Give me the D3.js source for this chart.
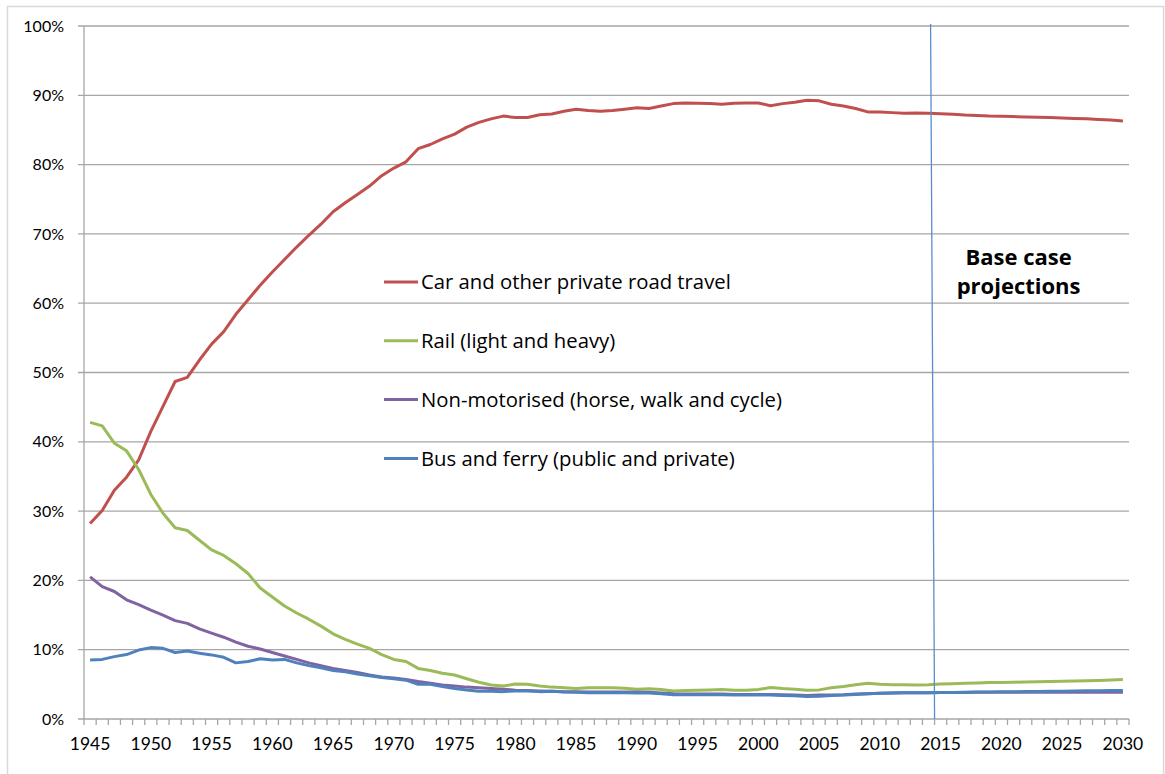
<!DOCTYPE html>
<html>
<head>
<meta charset="utf-8">
<script src="https://cdn.jsdelivr.net/npm/d3@7"></script>
<style>
  html, body { margin: 0; padding: 0; background: #fff; }
  svg { display: block; font-family: Lato, "Open Sans", sans-serif; }
</style>
</head>
<body>
<svg id="chart" width="1165" height="774"></svg>
<script>
// ---------- data ----------
const years = d3.range(1945, 2031);
const xTickLabels = d3.range(1945, 2031, 5);
const yTicks = [0, 0.1, 0.2, 0.3, 0.4, 0.5, 0.6, 0.7, 0.8, 0.9, 1.0];

const car = [
  28.2, 30.1, 33.0, 34.9, 37.4, 41.5, 45.1, 48.7, 49.3, 51.8,
  54.1, 55.9, 58.4, 60.5, 62.6, 64.5, 66.3, 68.1, 69.8, 71.4,
  73.2, 74.5, 75.7, 76.9, 78.4, 79.5, 80.4, 82.3, 82.9, 83.7,
  84.4, 85.4, 86.1, 86.6, 87.0, 86.8, 86.8, 87.2, 87.3, 87.7,
  88.0, 87.8, 87.7, 87.8, 88.0, 88.2, 88.1, 88.45, 88.8, 88.9,
  88.85, 88.8, 88.7, 88.85, 88.9, 88.9, 88.5, 88.8, 89.0, 89.3,
  89.2, 88.7, 88.45, 88.1, 87.6, 87.6, 87.5, 87.4, 87.45, 87.4,
  87.35, 87.25, 87.15, 87.1, 87.0, 86.97, 86.93, 86.88, 86.83, 86.78,
  86.72, 86.67, 86.6, 86.52, 86.43, 86.3
];
const rail = [
  42.8, 42.3, 39.8, 38.7, 36.0, 32.4, 29.7, 27.6, 27.2, 25.8,
  24.4, 23.6, 22.4, 21.0, 18.9, 17.6, 16.3, 15.3, 14.4, 13.4,
  12.3, 11.5, 10.8, 10.2, 9.3, 8.6, 8.3, 7.3, 7.0, 6.6,
  6.35, 5.8, 5.3, 4.9, 4.75, 5.05, 5.0, 4.75, 4.6, 4.5,
  4.4, 4.5, 4.5, 4.5, 4.45, 4.3, 4.35, 4.25, 4.05, 4.1,
  4.15, 4.2, 4.25, 4.15, 4.15, 4.25, 4.55, 4.4, 4.3, 4.15,
  4.2, 4.5, 4.7, 4.95, 5.15, 5.0, 4.95, 4.95, 4.9, 4.95,
  5.05, 5.1, 5.15, 5.2, 5.25, 5.28, 5.31, 5.35, 5.38, 5.42,
  5.45, 5.48, 5.52, 5.57, 5.62, 5.7
];
const nonMotorised = [
  20.5, 19.1, 18.4, 17.2, 16.5, 15.7, 15.0, 14.2, 13.8, 13.0,
  12.4, 11.8, 11.1, 10.5, 10.1, 9.6, 9.1, 8.6, 8.1, 7.7,
  7.3, 7.0, 6.7, 6.35, 6.05, 5.9, 5.7, 5.4, 5.15, 4.9,
  4.75, 4.6, 4.5, 4.4, 4.3, 4.15, 4.1, 4.05, 4.0, 3.95,
  3.95, 3.9, 3.9, 3.9, 3.9, 3.9, 3.85, 3.75, 3.65, 3.6,
  3.6, 3.6, 3.6, 3.55, 3.55, 3.55, 3.55, 3.5, 3.45, 3.4,
  3.45, 3.45, 3.5, 3.6, 3.65, 3.7, 3.75, 3.8, 3.8, 3.8,
  3.82, 3.83, 3.84, 3.85, 3.85, 3.86, 3.86, 3.86, 3.86, 3.86,
  3.86, 3.86, 3.86, 3.86, 3.86, 3.86
];
const bus = [
  8.5, 8.6, 9.0, 9.3, 9.95, 10.3, 10.2, 9.6, 9.8, 9.5,
  9.25, 8.9, 8.1, 8.3, 8.7, 8.5, 8.6, 8.1, 7.7, 7.4,
  7.0, 6.8, 6.5, 6.25, 6.0, 5.8, 5.6, 5.0, 5.0, 4.7,
  4.4, 4.2, 4.0, 4.0, 3.95, 4.05, 4.05, 3.95, 4.0, 3.9,
  3.85, 3.8, 3.8, 3.8, 3.8, 3.75, 3.75, 3.65, 3.5, 3.5,
  3.5, 3.5, 3.5, 3.45, 3.45, 3.45, 3.45, 3.4, 3.35, 3.25,
  3.3, 3.4, 3.45, 3.55, 3.65, 3.7, 3.75, 3.8, 3.8, 3.8,
  3.82, 3.84, 3.86, 3.88, 3.9, 3.92, 3.94, 3.96, 3.98, 4.0,
  4.02, 4.04, 4.06, 4.08, 4.1, 4.12
];

const seriesNames = [
  "Car and other private road travel",
  "Rail (light and heavy)",
  "Non-motorised (horse, walk and cycle)",
  "Bus and ferry (public and private)"
];
const seriesValues = [car, rail, nonMotorised, bus];
const seriesColors = ["#C0504D", "#9BBB59", "#8064A2", "#4F81BD"];

const projectionStart = 2015;
const annotationLines = ["Base case", "projections"];

// ---------- layout ----------
const W = 1165, H = 774;
const margin = { left: 84, right: 36, top: 26, bottom: 55 };
const svg = d3.select("#chart");

// outer frame
svg.append("rect")
  .attr("x", 7.5).attr("y", 6.5)
  .attr("width", 1156).attr("height", 790)
  .attr("fill", "none").attr("stroke", "#d9d9d9").attr("stroke-width", 1.5);

const x = d3.scaleBand()
  .domain(years)
  .range([margin.left, W - margin.right])
  .padding(0);
const y = d3.scaleLinear()
  .domain([0, 1])
  .range([H - margin.bottom, margin.top]);
const cx = yr => x(yr) + x.bandwidth() / 2;

// gridlines
svg.append("g")
  .selectAll("line")
  .data(yTicks)
  .join("line")
  .attr("x1", margin.left - 6)
  .attr("x2", W - margin.right)
  .attr("y1", d => y(d))
  .attr("y2", d => y(d))
  .attr("stroke", "#a6a6a6")
  .attr("stroke-width", 1.3);

// y axis line
svg.append("line")
  .attr("x1", margin.left).attr("x2", margin.left)
  .attr("y1", y(1)).attr("y2", y(0))
  .attr("stroke", "#a6a6a6").attr("stroke-width", 1.3);

// y labels
svg.append("g")
  .selectAll("text")
  .data(yTicks)
  .join("text")
  .attr("x", margin.left - 20)
  .attr("y", d => y(d))
  .attr("dy", "0.35em")
  .attr("text-anchor", "end")
  .attr("font-size", 16)
  .attr("fill", "#000")
  .text(d => d3.format(".0%")(d));

// x axis ticks (between categories)
const tickPos = years.map(yr => x(yr)).concat([x(years[years.length - 1]) + x.bandwidth()]);
svg.append("g")
  .selectAll("line")
  .data(tickPos)
  .join("line")
  .attr("x1", d => d).attr("x2", d => d)
  .attr("y1", y(0)).attr("y2", y(0) + 6)
  .attr("stroke", "#a6a6a6").attr("stroke-width", 1.3);

// x labels
svg.append("g")
  .selectAll("text")
  .data(xTickLabels)
  .join("text")
  .attr("x", d => cx(d))
  .attr("y", y(0) + 31)
  .attr("text-anchor", "middle")
  .attr("font-size", 17.5)
  .attr("fill", "#000")
  .text(d => d);

// lines
const line = d3.line()
  .x((d, i) => cx(years[i]))
  .y(d => y(d / 100));

seriesValues.forEach((vals, k) => {
  svg.append("path")
    .datum(vals)
    .attr("d", line)
    .attr("fill", "none")
    .attr("stroke", seriesColors[k])
    .attr("stroke-width", 3)
    .attr("stroke-linejoin", "round");
});

// projection divider
const divX = x(projectionStart);
svg.append("line")
  .attr("x1", divX - 4).attr("y1", y(1) - 2)
  .attr("x2", divX).attr("y2", y(0))
  .attr("stroke", "#5b8ccf").attr("stroke-width", 1.3);

// annotation
const annX = cx(2021) + 5;
svg.append("text")
  .attr("x", annX)
  .attr("y", y(0.665) + 7)
  .attr("text-anchor", "middle")
  .attr("font-family", "'Open Sans', sans-serif")
  .attr("font-size", 22)
  .attr("font-weight", "bold")
  .attr("fill", "#000")
  .selectAll("tspan")
  .data(annotationLines)
  .join("tspan")
  .attr("x", annX)
  .attr("dy", (d, i) => i === 0 ? 0 : 29)
  .text(d => d);

// legend
const legX = 384, legY0 = 282, legStep = 58.8;
const leg = svg.append("g");
seriesNames.forEach((name, k) => {
  const ly = legY0 + k * legStep;
  leg.append("line")
    .attr("x1", legX).attr("x2", legX + 34)
    .attr("y1", ly).attr("y2", ly)
    .attr("stroke", seriesColors[k]).attr("stroke-width", 3);
  leg.append("text")
    .attr("x", legX + 37)
    .attr("y", ly)
    .attr("dy", "0.36em")
    .attr("font-family", "'Open Sans', sans-serif")
    .attr("font-size", 20.3)
    .attr("fill", "#000")
    .text(name);
});
</script>
</body>
</html>
